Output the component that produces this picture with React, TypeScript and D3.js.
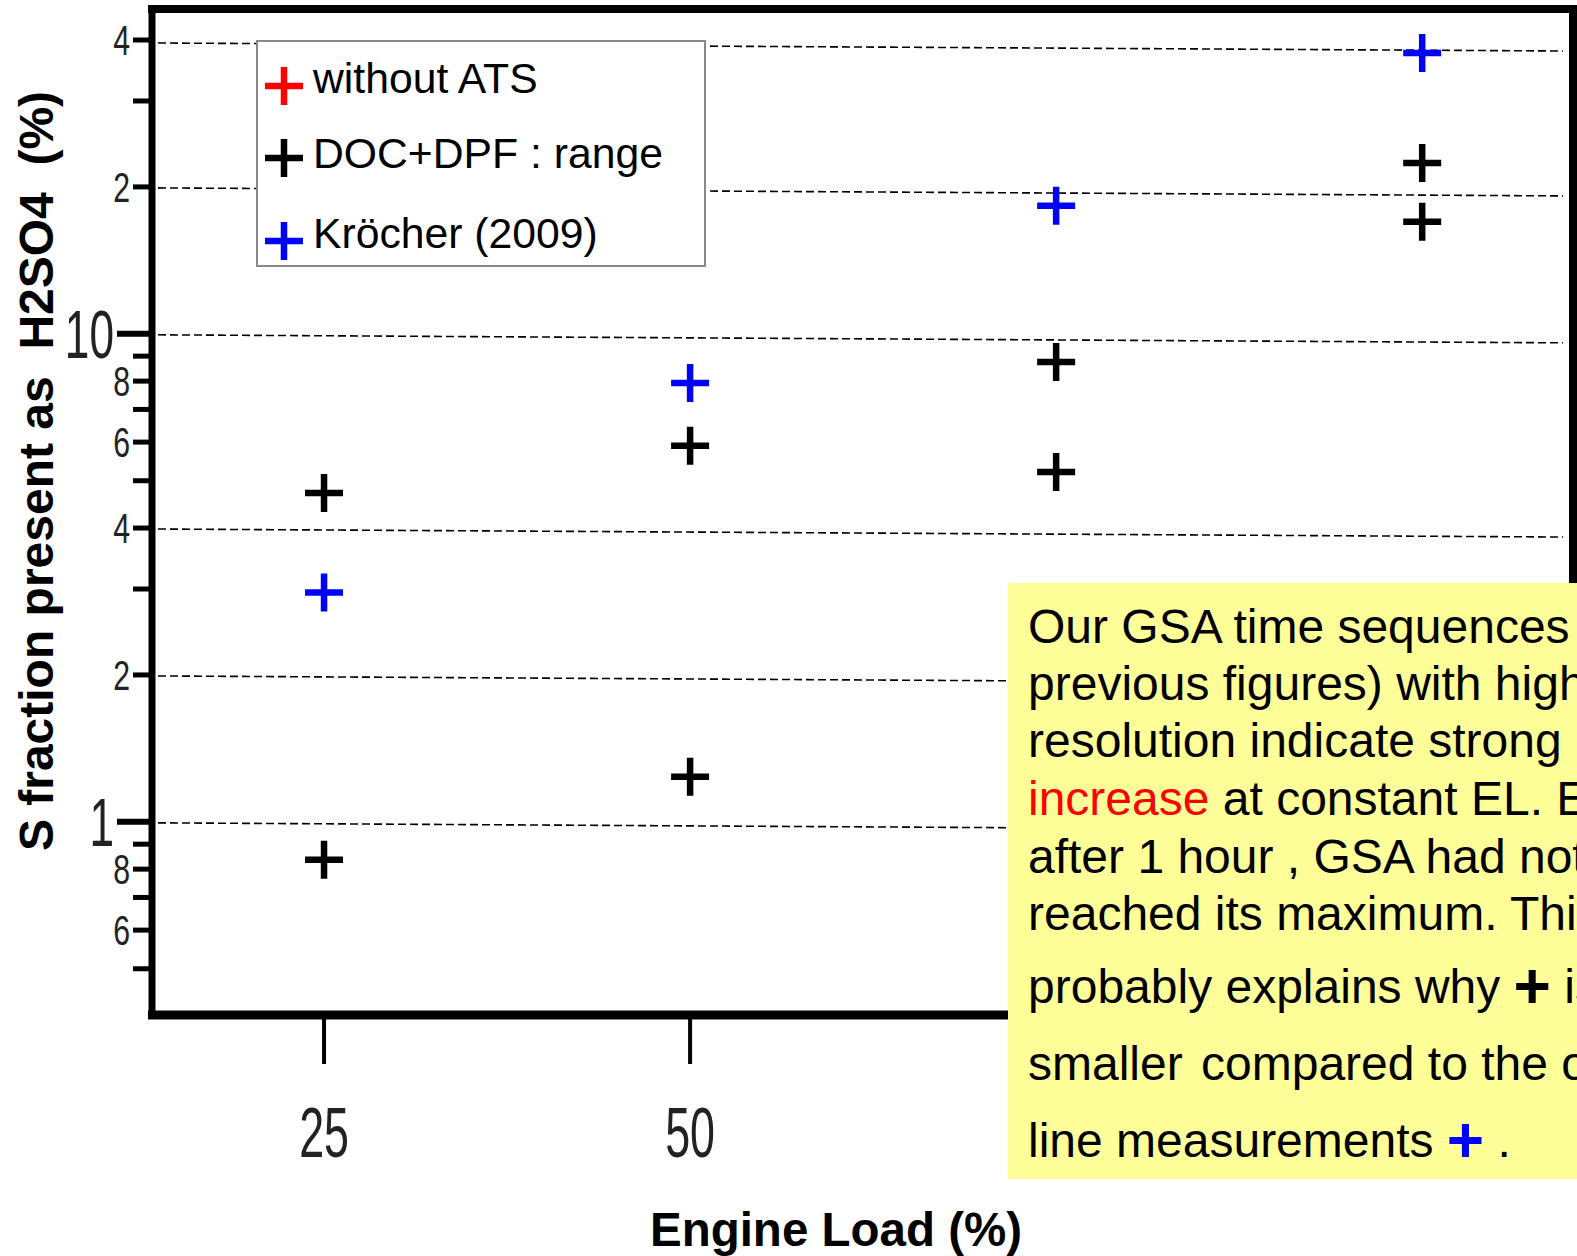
import React from "react";
import * as d3 from "d3";

// Engine load categories (%)
const LOADS = [25, 50, 75, 100];
// DOC+DPF range: upper and lower bound of the S fraction present as H2SO4 (%)
const DOC_DPF_HIGH = [4.72, 5.9, 8.76, 22.4];
const DOC_DPF_LOW = [0.836, 1.237, 5.21, 16.96];
// Kröcher (2009) reference values (%)
const KROCHER = [2.95, 7.93, 18.3, 37.6];

const LEGEND = [
  { label: "without ATS", color: "#ff0000" },
  { label: "DOC+DPF : range", color: "#000000" },
  { label: "Kröcher (2009)", color: "#0000ff" },
];

const X_TICKS = [25, 50, 75, 100];
const Y_TICKS = [0.5, 0.6, 0.7, 0.8, 0.9, 1, 2, 3, 4, 5, 6, 7, 8, 9, 10, 20, 30, 40];
const Y_MAJOR = [1, 10];
const Y_LABELS: [number, string][] = [
  [40, "4"], [20, "2"], [10, "10"], [8, "8"], [6, "6"],
  [4, "4"], [2, "2"], [1, "1"], [0.8, "8"], [0.6, "6"],
];
const GRID = [1, 2, 4, 10, 20, 40];

const NOTE_LINES: { parts: { t: string; color?: string; plus?: boolean; dx?: number }[] }[] = [
  { parts: [{ t: "Our GSA time sequences (see" }] },
  { parts: [{ t: "previous figures) with high time" }] },
  { parts: [{ t: "resolution indicate strong GSA" }] },
  { parts: [{ t: "increase", color: "#ff0000" }, { t: " at constant EL. Even" }] },
  { parts: [{ t: "after 1 hour , GSA had not" }] },
  { parts: [{ t: "reached its maximum. This" }] },
  { parts: [{ t: "probably explains why " }, { t: "+", plus: true, color: "#000000" }, { t: " is" }] },
  { parts: [{ t: "smaller" }, { t: " compared to the off-", dx: 5 }] },
  { parts: [{ t: "line measurements " }, { t: "+", plus: true, color: "#0000ff" }, { t: " ." }] },
];
const NOTE_BASELINES = [643, 700, 757, 815, 873, 930, 1003, 1080, 1157];

const W = 1577;
const H = 1256;
const PLOT = { left: 152, top: 9, right: 1573, bottom: 1015 };

const FONT = "'Liberation Sans', Arial, Helvetica, sans-serif";

function Plus({ x, y, color, size = 19, width = 6.5 }: { x: number; y: number; color: string; size?: number; width?: number }) {
  return (
    <path
      d={`M${x - size},${y}H${x + size}M${x},${y - size}V${y + size}`}
      stroke={color}
      strokeWidth={width}
      fill="none"
    />
  );
}

export default function App() {
  const x = d3.scaleLinear().domain([13.25, 110.3]).range([PLOT.left, PLOT.right]);
  const y = d3.scaleLog().domain([0.402, 46.3]).range([PLOT.bottom, PLOT.top]);

  return (
    <svg
      width={W}
      height={H}
      viewBox={`0 0 ${W} ${H}`}
      style={{ position: "absolute", left: 0, top: 0, background: "#fff" }}
      fontFamily={FONT}
    >
      <rect x={0} y={0} width={W} height={H} fill="#fff" />

      {/* dashed grid lines (drawn with the slight slope of the original plot) */}
      {GRID.map((v) => (
        <line
          key={`g${v}`}
          x1={PLOT.left + 6}
          x2={1563}
          y1={y(v) + (v === 40 ? 3 : 1)}
          y2={y(v) + (v === 40 ? 11 : 9)}
          stroke="#000"
          strokeWidth={1.6}
          strokeDasharray="8,4"
        />
      ))}

      {/* y axis ticks */}
      {Y_TICKS.map((v) => {
        const major = Y_MAJOR.includes(v);
        return (
          <line
            key={`yt${v}`}
            x1={major ? 117 : 133}
            x2={PLOT.left}
            y1={y(v)}
            y2={y(v)}
            stroke="#000"
            strokeWidth={major ? 6 : 5}
          />
        );
      })}
      {Y_LABELS.map(([v, s]) => {
        const big = Y_MAJOR.includes(v);
        return (
          <text
            key={`yl${v}`}
            transform={`translate(${big ? 114 : 130},${y(v)}) scale(${big ? 0.65 : 0.72},1)`}
            textAnchor="end"
            dy="0.36em"
            fontSize={big ? 68 : 42}
            fill="#222"
          >
            {s}
          </text>
        );
      })}

      {/* x axis ticks and labels */}
      {X_TICKS.map((v) => (
        <g key={`xt${v}`}>
          <line x1={x(v)} x2={x(v)} y1={PLOT.bottom} y2={1064} stroke="#000" strokeWidth={4} />
          <text
            transform={`translate(${x(v)},1157) scale(0.64,1)`}
            textAnchor="middle"
            fontSize={70}
            fill="#222"
          >
            {v}
          </text>
        </g>
      ))}

      {/* plot frame */}
      <line x1={PLOT.left - 4} x2={W} y1={PLOT.top} y2={PLOT.top} stroke="#000" strokeWidth={8} />
      <line x1={PLOT.right} x2={PLOT.right} y1={PLOT.top - 4} y2={PLOT.bottom} stroke="#000" strokeWidth={8} />
      <line x1={PLOT.left - 4} x2={W} y1={PLOT.bottom} y2={PLOT.bottom} stroke="#000" strokeWidth={9} />
      <line x1={PLOT.left} x2={PLOT.left} y1={PLOT.top - 4} y2={PLOT.bottom + 4} stroke="#000" strokeWidth={7} />

      {/* data markers */}
      {LOADS.map((l, i) => (
        <g key={`p${l}`}>
          <Plus x={x(l)} y={y(DOC_DPF_HIGH[i])} color="#000" />
          <Plus x={x(l)} y={y(DOC_DPF_LOW[i])} color="#000" />
          <Plus x={x(l)} y={y(KROCHER[i])} color="#0000ff" />
        </g>
      ))}

      {/* legend */}
      <rect x={257} y={41} width={448} height={225} fill="#fff" stroke="#888" strokeWidth={2} />
      {LEGEND.map((e, i) => {
        const cy = [86, 158, 241][i];
        const base = [93, 168, 248][i];
        return (
          <g key={e.label}>
            <Plus x={284} y={cy} color={e.color} />
            <text x={313} y={base} fontSize={42.7} fill="#000">
              {e.label}
            </text>
          </g>
        );
      })}

      {/* annotation box */}
      <rect x={1008} y={583} width={W - 1008} height={1179 - 583} fill="#ffff99" />
      {NOTE_LINES.map((ln, i) => (
        <text key={`n${i}`} x={1028} y={NOTE_BASELINES[i]} fontSize={48} fill="#000" style={{ whiteSpace: "pre" }}>
          {ln.parts.map((p, j) =>
            p.plus ? (
              <tspan key={j} fill={p.color} fontWeight="bold" fontSize={64} dy={5}>
                {p.t}
              </tspan>
            ) : (
              <tspan
                key={j}
                fill={p.color || "#000"}
                dx={p.dx || 0}
                dy={j > 0 && ln.parts[j - 1].plus ? -5 : 0}
              >
                {p.t}
              </tspan>
            )
          )}
        </text>
      ))}

      {/* axis titles */}
      <text
        transform={`translate(53,${471}) rotate(-90)`}
        textAnchor="middle"
        fontSize={48}
        fontWeight="bold"
        fill="#000"
        style={{ whiteSpace: "pre" }}
      >
        {"S fraction present as  H2SO4  (%)"}
      </text>
      <text x={836} y={1246} textAnchor="middle" fontSize={47.5} fontWeight="bold" fill="#000">
        Engine Load (%)
      </text>
    </svg>
  );
}
